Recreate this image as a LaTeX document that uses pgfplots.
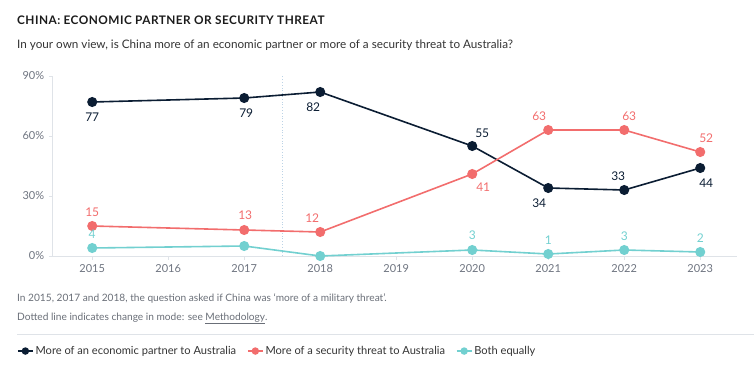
\documentclass[border=0pt]{standalone}
\usepackage{fontspec}
\setmainfont{Lato}
\usepackage{pgfplots}
\usepackage{pgfplotstable}
\pgfplotsset{compat=1.18}
\definecolor{econ}{HTML}{0B1D33}
\definecolor{sec}{HTML}{F26D6D}
\definecolor{both}{HTML}{72D0D0}
\definecolor{axgrey}{HTML}{DFE3E8}
\definecolor{ticktext}{HTML}{6E7480}
\definecolor{dotc}{HTML}{BCD3E6}
\definecolor{titlec}{HTML}{1B1B1B}
\definecolor{subc}{HTML}{333333}
\definecolor{notec}{HTML}{6A6F78}

\pgfplotstableread{
x y lab dx dy
2015 77 77 0 -15
2017 79 79 2 -15
2018 82 82 -7 -15
2020 55 55 10 13
2021 34 34 -9 -15
2022 33 33 -6 14
2023 44 44 6 -15
}\econtab
\pgfplotstableread{
x y lab dx dy
2015 15 15 0 14
2017 13 13 1 15
2018 12 12 -8 14
2020 41 41 11 -13
2021 63 63 -9 14
2022 63 63 5 14
2023 52 52 6 14
}\sectab
\pgfplotstableread{
x y lab dx dy
2015 4 4 0 14
2017 5 {} 0 14
2018 0 {} 0 14
2020 3 3 0 15
2021 1 1 0 14
2022 3 3 0 14
2023 2 2 0 14
}\bothtab

\begin{document}
\begin{tikzpicture}[x=1bp,y=1bp]
\path[use as bounding box] (0,0) rectangle (754,368);
\begin{axis}[
  at={(52.7bp,112bp)}, anchor=south west,
  scale only axis, width=684bp, height=180bp,
  xmin=2014.48, xmax=2023.48, ymin=0, ymax=90,
  axis lines*=left,
  axis line style={axgrey, line width=0.9bp},
  xtick={2015,...,2023},
  xticklabels={2015,2016,2017,2018,2019,2020,2021,2022,2023},
  ytick={0,30,60,90},
  yticklabels={0\%,30\%,60\%,90\%},
  tick style={axgrey, line width=0.9bp},
  tick align=outside,
  major tick length=3.5bp,
  ticklabel style={font=\fontsize{11bp}{13bp}\selectfont, text=ticktext},
  xticklabel style={yshift=-1.5bp},
  yticklabel style={xshift=-1.5bp},
  /pgf/number format/assume math mode=true,
  clip=false,
  point meta=explicit symbolic,
  nodes near coords,
  visualization depends on={\thisrow{dx}\as\mydx},
  visualization depends on={\thisrow{dy}\as\mydy},
  nodes near coords style={anchor=center, inner sep=0pt, xshift=\mydx bp, yshift=\mydy bp, font=\fontsize{12bp}{14bp}\selectfont},
  every axis plot/.append style={line width=1.6bp, mark=*, mark size=4.2bp},
  legend columns=3,
  legend style={at={(-0.0522,-0.528)}, anchor=west, draw=none, fill=none,
    font=\fontsize{11.1bp}{13bp}\selectfont, text=subc, inner sep=0pt,
    /tikz/every even column/.append style={column sep=9bp}},
  legend cell align=left,
  legend image code/.code={\draw[mark repeat=2,mark phase=2,#1,line width=1.4bp, mark size=3bp] plot coordinates {(0bp,0bp) (7.5bp,0bp) (15bp,0bp)};},
]
\draw[dotc, dotted, line width=0.8bp] (axis cs:2017.5,0) -- (axis cs:2017.5,90);
\addplot[econ, mark options={fill=econ}, nodes near coords style={text=econ}] table[x=x,y=y,meta=lab] {\econtab};
\addlegendentry{More of an economic partner to Australia}
\addplot[sec, mark options={fill=sec}, nodes near coords style={text=sec}] table[x=x,y=y,meta=lab] {\sectab};
\addlegendentry{More of a security threat to Australia}
\addplot[both, mark options={fill=both}, nodes near coords style={text=both}] table[x=x,y=y,meta=lab] {\bothtab};
\addlegendentry{Both equally}
\end{axis}
\node[anchor=base west, inner sep=0pt, text=titlec, font=\fontsize{11.8bp}{14bp}\selectfont\bfseries\addfontfeature{LetterSpace=4}] at (17,344) {CHINA: ECONOMIC PARTNER OR SECURITY THREAT};
\node[anchor=base west, inner sep=0pt, text=subc, font=\fontsize{11.7bp}{14bp}\selectfont] at (17,320) {In your own view, is China more of an economic partner or more of a security threat to Australia?};
\node[anchor=base west, inner sep=0pt, text=notec, font=\fontsize{10.15bp}{12bp}\selectfont] at (17,67) {In 2015, 2017 and 2018, the question asked if China was `more of a military threat'.};
\node[anchor=base west, inner sep=0pt, text=notec, font=\fontsize{10.15bp}{12bp}\selectfont] at (17,48) {Dotted line indicates change in mode: see \underline{Methodology}.};
\draw[axgrey, line width=1bp] (17,34) -- (754,34);
\end{tikzpicture}
\end{document}
